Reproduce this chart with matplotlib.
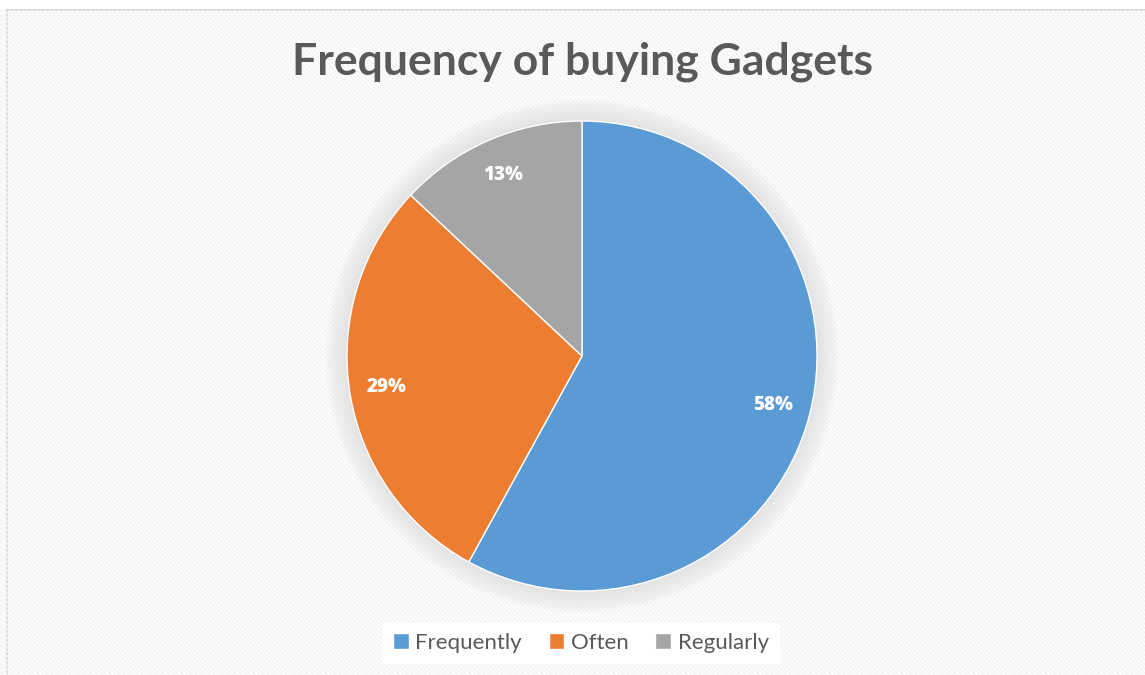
import numpy as np
import matplotlib.pyplot as plt
from matplotlib.patches import Rectangle, Circle

plt.rcParams['font.family'] = ['Lato', 'DejaVu Sans']

categories = ['Frequently', 'Often', 'Regularly']
shares = [58, 29, 13]
colors = ['#5B9BD5', '#ED7D31', '#A5A5A5']
text_grey = '#595959'

W, H = 1145, 675
fig = plt.figure(figsize=(W / 100, H / 100), dpi=100)
fig.patch.set_facecolor('white')

# chart area: light border plus faint diagonal stripes
bg = fig.add_axes([0, 0, 1, 1])
bg.set_xlim(0, W)
bg.set_ylim(H, 0)
bg.axis('off')
bg.add_patch(Rectangle((7, 10), W, H, facecolor='white', edgecolor='#d9d9d9', lw=1.5))
for x0 in np.arange(-H, W, 4.5):
    bg.plot([x0, x0 + H], [10, 10 + H], color='#f3f3f3', lw=1.2, solid_capstyle='butt')
bg.set_xlim(0, W)
bg.set_ylim(H, 0)

fig.text(582 / W, 1 - 62 / H, 'Frequency of buying Gadgets', ha='center', va='center',
         fontsize=32, fontweight='bold', color=text_grey)

# pie centred at (582, 356) px with radius 235 px
r_px = 235
half = 1.25
side = 2 * half * r_px
ax = fig.add_axes([(582 - side / 2) / W, (H - 356 - side / 2) / H, side / W, side / H])
ax.set_xlim(-half, half)
ax.set_ylim(-half, half)
ax.axis('off')

# soft glow behind the pie
for k in range(20):
    ax.add_patch(Circle((0.0, 0.0), 1.0 + 0.005 * k, facecolor='#c0c0c0',
                        edgecolor='none', alpha=0.02, zorder=0))

wedges, _, autotexts = ax.pie(shares, colors=colors, startangle=90, counterclock=False,
                              autopct='%d%%', pctdistance=0.84, radius=1.0,
                              wedgeprops=dict(edgecolor='white', linewidth=1.0),
                              textprops=dict(color='white', fontsize=13.5, fontweight='heavy',
                                             family=['Open Sans', 'DejaVu Sans']))
ax.set_xlim(-half, half)
ax.set_ylim(-half, half)
ax.set_aspect('auto')

leg = fig.legend(wedges, categories, loc='center', bbox_to_anchor=(581 / W, 1 - 643 / H),
                 ncol=3, frameon=True, fancybox=False, edgecolor='white', facecolor='white',
                 fontsize=16, handlelength=0.7, handleheight=0.7, handletextpad=0.3,
                 columnspacing=1.2, borderpad=0.45, framealpha=1)
for t in leg.get_texts():
    t.set_color(text_grey)

fig.savefig('out.png', dpi=100)
